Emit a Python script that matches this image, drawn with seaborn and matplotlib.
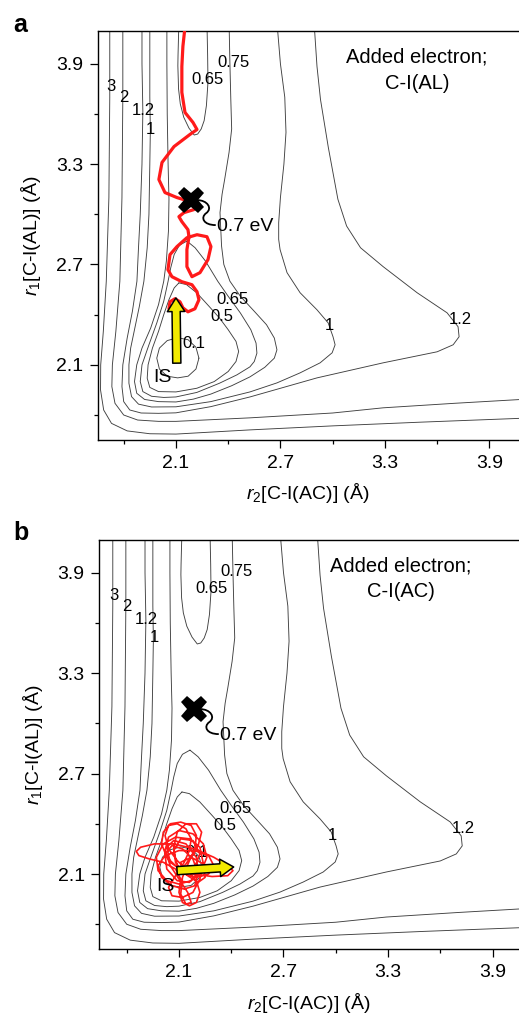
import numpy as np
import pandas as pd
import seaborn as sns
import matplotlib.pyplot as plt
import matplotlib.transforms as mtransforms
from matplotlib.path import Path
from matplotlib.patches import PathPatch
from matplotlib.ticker import FormatStrFormatter

# contour lines of the energy surface (r2, r1 in Angstrom)
c_3 = [(1.72, 4.15), (1.72, 3.70), (1.715, 3.10), (1.70, 2.60), (1.683, 2.30), (1.668, 2.10),
       (1.667, 1.95), (1.685, 1.83), (1.73, 1.75), (1.82, 1.705), (1.95, 1.688), (2.10, 1.686),
       (2.525, 1.711), (3.00, 1.735), (3.50, 1.757), (4.20, 1.785)]
c_2 = [(1.795, 4.15), (1.795, 3.70), (1.79, 3.10), (1.778, 2.60), (1.755, 2.30), (1.735, 2.10),
       (1.732, 1.97), (1.75, 1.87), (1.80, 1.80), (1.88, 1.77), (2.00, 1.762), (2.10, 1.762),
       (2.525, 1.783), (3.00, 1.812), (3.29, 1.843), (3.70, 1.870), (4.20, 1.900)]
c_12 = [(1.905, 4.15), (1.905, 3.90), (1.91, 3.615), (1.905, 3.30), (1.895, 3.00), (1.885, 2.80),
        (1.876, 2.60), (1.85, 2.42), (1.82, 2.26), (1.795, 2.10), (1.79, 1.97), (1.80, 1.88),
        (1.835, 1.83), (1.90, 1.812), (2.00, 1.81), (2.10, 1.813), (2.30, 1.85), (2.525, 1.908),
        (2.91, 2.022), (3.29, 2.112), (3.60, 2.178), (3.692, 2.22), (3.726, 2.268), (3.72, 2.328),
        (3.657, 2.411), (3.485, 2.531), (3.29, 2.687), (3.16, 2.80), (3.08, 2.93), (3.03, 3.09),
        (2.975, 3.40), (2.93, 3.687), (2.91, 3.884), (2.893, 4.15)]
c_1 = [(1.95, 4.15), (1.95, 3.70), (1.953, 3.50), (1.95, 3.30), (1.945, 3.00), (1.935, 2.80),
       (1.916, 2.60), (1.89, 2.45), (1.86, 2.30), (1.84, 2.20), (1.83, 2.10), (1.83, 1.99),
       (1.845, 1.91), (1.885, 1.865), (1.96, 1.848), (2.10, 1.849), (2.30, 1.88), (2.525, 1.938),
       (2.68, 1.992), (2.813, 2.052), (2.928, 2.112), (2.997, 2.172), (3.014, 2.22), (3.002, 2.268),
       (2.974, 2.351), (2.91, 2.429), (2.813, 2.531), (2.738, 2.651), (2.698, 2.789), (2.69, 2.85),
       (2.69, 2.95), (2.70, 3.10), (2.72, 3.30), (2.732, 3.49), (2.725, 3.70), (2.70, 3.90),
       (2.68, 4.15)]
c_075 = [(2.048, 4.15), (2.048, 3.90), (2.05, 3.60), (2.055, 3.30), (2.06, 3.09), (2.057, 2.90),
         (2.045, 2.72), (2.03, 2.60), (2.00, 2.46), (1.955, 2.32), (1.905, 2.20), (1.875, 2.10),
         (1.862, 2.00), (1.875, 1.93), (1.92, 1.893), (2.00, 1.88), (2.10, 1.878), (2.20, 1.895),
         (2.30, 1.925), (2.42, 1.975), (2.525, 2.028), (2.61, 2.085), (2.665, 2.14), (2.68, 2.19),
         (2.665, 2.26), (2.62, 2.34), (2.55, 2.42), (2.47, 2.51), (2.41, 2.60), (2.375, 2.70),
         (2.362, 2.81), (2.353, 3.01), (2.365, 3.12), (2.38, 3.21), (2.405, 3.37), (2.42, 3.51),
         (2.415, 3.69), (2.41, 3.90), (2.405, 4.15)]
c_065_top = [(2.117, 4.15), (2.112, 3.95), (2.111, 3.888), (2.115, 3.75), (2.125, 3.66),
             (2.145, 3.58), (2.175, 3.515), (2.205, 3.474), (2.225, 3.48), (2.245, 3.51),
             (2.262, 3.56), (2.275, 3.65), (2.284, 3.79), (2.282, 3.95), (2.278, 4.15)]
c_065 = [(2.163, 2.84), (2.21, 2.80), (2.27, 2.72), (2.34, 2.60), (2.40, 2.51), (2.47, 2.41),
         (2.53, 2.31), (2.56, 2.23), (2.565, 2.17), (2.55, 2.12), (2.525, 2.088), (2.45, 2.04),
         (2.35, 1.99), (2.22, 1.935), (2.10, 1.908), (2.03, 1.905), (1.96, 1.912), (1.91, 1.94),
         (1.895, 2.00), (1.905, 2.10), (1.945, 2.22), (1.99, 2.35), (2.03, 2.48), (2.055, 2.60),
         (2.07, 2.68), (2.09, 2.76), (2.12, 2.815), (2.163, 2.84)]
c_05 = [(2.117, 2.59), (2.09, 2.56), (2.06, 2.49), (2.03, 2.40), (2.00, 2.30), (1.965, 2.20),
        (1.94, 2.10), (1.935, 2.02), (1.95, 1.965), (2.00, 1.94), (2.10, 1.938), (2.22, 1.96),
        (2.32, 2.00), (2.40, 2.06), (2.445, 2.12), (2.46, 2.18), (2.445, 2.24), (2.40, 2.31),
        (2.35, 2.38), (2.29, 2.45), (2.22, 2.53), (2.16, 2.58), (2.117, 2.59)]
c_01 = [(2.232, 2.14), (2.215, 2.205), (2.17, 2.25), (2.11, 2.262), (2.05, 2.245), (2.005, 2.20),
        (1.99, 2.14), (2.005, 2.075), (2.05, 2.032), (2.11, 2.022), (2.17, 2.032), (2.215, 2.075),
        (2.232, 2.14)]

lab_text = ['3', '2', '1.2', '1', '0.65', '0.75', '0.65', '0.5', '0.1', '1', '1.2']
lab_x = [1.724, 1.798, 1.913, 1.956, 2.284, 2.428, 2.422, 2.364, 2.203, 2.979, 3.732]
lab_y = [3.762, 3.696, 3.618, 3.510, 3.807, 3.908, 2.489, 2.387, 2.226, 2.333, 2.369]

# trajectory, electron on C-I(AL)
traj_a_r2 = [2.06, 2.066, 2.094, 2.123, 2.14, 2.169, 2.209, 2.232, 2.221, 2.192, 2.134, 2.077,
             2.054, 2.066, 2.106, 2.163, 2.221, 2.278, 2.301, 2.284, 2.238, 2.192, 2.163, 2.163,
             2.175, 2.169, 2.134, 2.117, 2.146, 2.203, 2.221, 2.163, 2.106, 2.037, 2.002, 2.02,
             2.089, 2.18, 2.221, 2.198, 2.152, 2.134, 2.134, 2.14, 2.152]
traj_a_r1 = [2.435, 2.477, 2.495, 2.477, 2.441, 2.417, 2.435, 2.489, 2.537, 2.579, 2.597, 2.627,
             2.669, 2.759, 2.807, 2.86, 2.878, 2.866, 2.807, 2.729, 2.651, 2.627, 2.687, 2.789,
             2.866, 2.908, 2.956, 2.986, 3.01, 3.028, 3.058, 3.082, 3.10, 3.13, 3.208, 3.31,
             3.405, 3.477, 3.507, 3.549, 3.609, 3.729, 3.884, 4.004, 4.12]

# trajectory, electron on C-I(AC): stays tangled in the IS basin
traj_b = [(2.10, 2.12), (2.13, 2.17), (2.16, 2.24), (2.17, 2.31), (2.14, 2.37), (2.09, 2.40),
          (2.04, 2.39), (2.02, 2.33), (2.04, 2.25), (2.09, 2.18), (2.15, 2.12), (2.20, 2.06),
          (2.22, 1.99), (2.20, 1.93), (2.16, 1.91), (2.12, 1.93), (2.10, 1.99), (2.11, 2.07),
          (2.08, 2.13), (2.01, 2.17), (1.93, 2.19), (1.87, 2.21), (1.855, 2.235), (1.88, 2.26),
          (1.96, 2.28), (2.07, 2.28), (2.19, 2.25), (2.30, 2.20), (2.38, 2.15), (2.41, 2.12),
          (2.38, 2.09), (2.29, 2.085), (2.18, 2.10), (2.09, 2.14), (2.03, 2.20), (2.00, 2.28),
          (2.01, 2.35), (2.05, 2.40), (2.11, 2.41), (2.17, 2.39), (2.20, 2.33), (2.19, 2.24),
          (2.14, 2.16), (2.08, 2.09), (2.04, 2.02), (2.06, 1.97), (2.12, 1.96), (2.18, 1.99),
          (2.22, 2.07), (2.24, 2.16), (2.22, 2.26), (2.16, 2.31), (2.08, 2.32), (2.01, 2.28),
          (1.97, 2.20), (1.98, 2.12), (2.03, 2.06), (2.10, 2.04), (2.17, 2.06), (2.23, 2.12),
          (2.26, 2.20), (2.24, 2.28), (2.18, 2.34), (2.10, 2.36), (2.04, 2.32), (2.02, 2.24),
          (2.05, 2.15), (2.10, 2.07), (2.15, 1.99), (2.17, 1.93), (2.14, 1.92), (2.11, 1.98),
          (2.12, 2.08), (2.16, 2.18), (2.21, 2.27), (2.23, 2.35), (2.20, 2.40), (2.14, 2.40),
          (2.09, 2.35), (2.07, 2.26), (2.08, 2.17), (2.13, 2.10), (2.20, 2.08), (2.27, 2.10),
          (2.30, 2.15), (2.27, 2.21), (2.19, 2.24), (2.10, 2.24), (2.02, 2.21), (1.98, 2.15),
          (2.00, 2.08), (2.06, 2.03), (2.13, 2.01), (2.19, 2.03), (2.21, 2.10), (2.18, 2.19),
          (2.12, 2.25), (2.06, 2.27), (2.02, 2.22), (2.03, 2.13), (2.09, 2.06), (2.16, 2.05),
          (2.21, 2.11), (2.20, 2.20), (2.14, 2.28), (2.07, 2.30), (2.03, 2.26), (2.05, 2.17),
          (2.12, 2.12), (2.19, 2.14), (2.22, 2.22), (2.18, 2.30), (2.11, 2.31), (2.07, 2.24),
          (2.09, 2.15), (2.15, 2.09), (2.21, 2.05), (2.25, 2.08), (2.24, 2.16), (2.17, 2.20),
          (2.11, 2.17), (2.12, 2.10)]

saddle = (2.185, 3.085)
is_pos = (2.025, 2.025)
arrow_a = [(2.105, 2.11), (2.10, 2.50)]
arrow_b = [(2.089, 2.12), (2.414, 2.142)]

contours = {'3': c_3, '2': c_2, '1.2': c_12, '1': c_1, '0.75': c_075,
            '0.65 top': c_065_top, '0.65': c_065, '0.5': c_05, '0.1': c_01}
rows = []
for name, pts in contours.items():
    for i, (x, y) in enumerate(pts):
        rows.append({'line': name, 'order': i, 'r2': x, 'r1': y})
df = pd.DataFrame(rows)

sns.set_theme(style='ticks')
plt.rcParams['font.family'] = ['Liberation Sans', 'DejaVu Sans']
plt.rcParams['mathtext.fontset'] = 'custom'
plt.rcParams['mathtext.it'] = 'Liberation Sans:italic'
plt.rcParams['mathtext.rm'] = 'Liberation Sans'
for k in ('text.color', 'axes.labelcolor', 'xtick.color', 'ytick.color'):
    plt.rcParams[k] = 'black'

fig = plt.figure(figsize=(5.19, 10.16), dpi=100)
ax_a = fig.add_axes([0.188, 0.567, 0.812, 0.402])
ax_b = fig.add_axes([0.1913, 0.0656, 0.8087, 0.4029])


def squiggle(ax):
    # little S-shaped leader from the saddle marker to its label (in points)
    verts = [(4.5, 0), (12, 0), (16, -6), (11, -9.5), (7, -12.5), (9, -18), (18, -18)]
    codes = [Path.MOVETO] + [Path.CURVE4] * 6
    tr = mtransforms.Affine2D().scale(fig.dpi / 72.0) + \
        mtransforms.ScaledTranslation(saddle[0], saddle[1], ax.transData)
    ax.add_patch(PathPatch(Path(verts, codes), fc='none', ec='black', lw=1.3,
                           transform=tr, zorder=5))


def draw_panel(ax, xlim, ylim, note, note_x):
    sns.lineplot(data=df, x='r2', y='r1', units='line', estimator=None, sort=False,
                 color='#404040', linewidth=0.65, ax=ax, legend=False, zorder=1)
    for t, x, y in zip(lab_text, lab_x, lab_y):
        ax.text(x, y, t, fontsize=12, ha='center', va='center', zorder=3)
    ax.plot(*saddle, marker='X', ms=19, color='black', mew=0, zorder=6)
    squiggle(ax)
    ax.annotate('0.7 eV', xy=saddle, xytext=(19, -19), textcoords='offset points',
                fontsize=14, ha='left', va='center', zorder=6)
    ax.text(*is_pos, 'IS', fontsize=14, ha='center', va='center', zorder=6)
    ax.text(note_x, 0.96, note, transform=ax.transAxes, fontsize=14.5, ha='center',
            va='top', linespacing=1.45)

    ax.set_xlim(*xlim)
    ax.set_ylim(*ylim)
    ax.set_xticks([2.1, 2.7, 3.3, 3.9])
    ax.set_yticks([2.1, 2.7, 3.3, 3.9])
    ax.set_xticks([1.8, 2.4, 3.0, 3.6], minor=True)
    ax.set_yticks([1.8, 2.4, 3.0, 3.6], minor=True)
    ax.xaxis.set_major_formatter(FormatStrFormatter('%.1f'))
    ax.yaxis.set_major_formatter(FormatStrFormatter('%.1f'))
    ax.tick_params(which='major', direction='out', length=5.5, width=0.9, labelsize=14, pad=5)
    ax.tick_params(which='minor', direction='out', length=3.2, width=0.9)
    for s in ('left', 'bottom', 'top'):
        ax.spines[s].set_linewidth(1.0)
        ax.spines[s].set_color('black')
    ax.spines['right'].set_visible(False)
    ax.set_xlabel(r'$r_2$[C-I(AC)] (Å)', fontsize=14, labelpad=7)
    ax.set_ylabel(r'$r_1$[C-I(AL)] (Å)', fontsize=14, labelpad=9)


def yellow_arrow(ax, pts):
    ax.annotate('', xy=pts[1], xytext=pts[0],
                arrowprops=dict(arrowstyle='simple,head_length=0.7,head_width=0.9,tail_width=0.42',
                                fc='#f2ea00', ec='black', lw=1.1, mutation_scale=14,
                                shrinkA=0, shrinkB=0), zorder=7)


draw_panel(ax_a, (1.65, 4.07), (1.651, 4.093), 'Added electron;\nC-I(AL)', 0.758)
sns.lineplot(x=traj_a_r2, y=traj_a_r1, sort=False, estimator=None, color='#ff1a1a',
             linewidth=2.3, ax=ax_a, zorder=4)
yellow_arrow(ax_a, arrow_a)

draw_panel(ax_b, (1.6425, 4.052), (1.65, 4.095), 'Added electron;\nC-I(AC)', 0.719)
tb = np.array(traj_b)
sns.lineplot(x=tb[:, 0], y=tb[:, 1], sort=False, estimator=None, color='#ff1a1a',
             linewidth=1.2, ax=ax_b, zorder=4)
yellow_arrow(ax_b, arrow_b)

fig.text(0.025, 0.9685, 'a', fontsize=18, fontweight='bold', ha='left', va='baseline')
fig.text(0.025, 0.4685, 'b', fontsize=18, fontweight='bold', ha='left', va='baseline')

fig.savefig('out.png', dpi=100)
